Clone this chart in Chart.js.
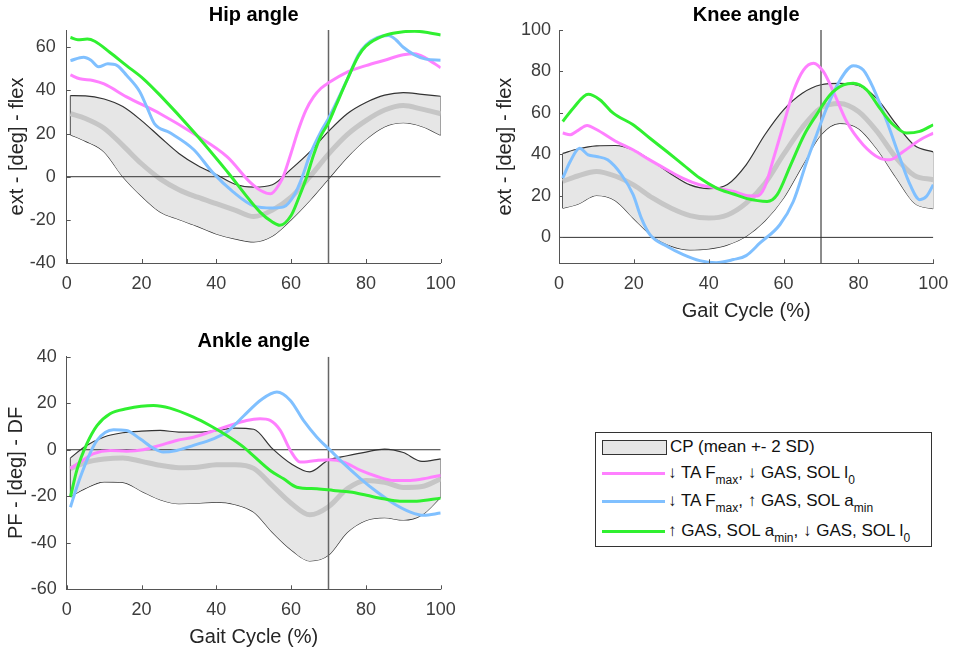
<!DOCTYPE html>
<html>
<head>
<meta charset="utf-8">
<script src="https://cdn.jsdelivr.net/npm/chart.js@4.4.0/dist/chart.umd.min.js"></script>
<style>
  body { margin: 0; background: #fff; font-family: 'Liberation Sans', Arial, sans-serif; }
  #wrap { position: relative; width: 962px; height: 656px; overflow: hidden; }
  canvas { position: absolute; }
  #hip { left: 0; top: 0; }
  #knee { left: 480px; top: 0; }
  #ankle { left: 0; top: 320px; }
  .legend { position: absolute; left: 595px; top: 432px; width: 337px; height: 115px;
            border: 1px solid #333; box-sizing: border-box; background: #fff; }
  .row { position: absolute; left: 6px; height: 24px; display: flex; align-items: center;
         font-size: 17px; color: #111; white-space: nowrap; }
  .sw { display: inline-block; width: 63px; margin-right: 3px; flex: none; }
  .patch { height: 13px; border: 1.5px solid #333; background: #e6e6e6; }
  .line { height: 3px; }
  .txt sub { font-size: 12px; position: relative; top: 6px; vertical-align: baseline; line-height: 0; }
</style>
</head>
<body>
<div id="wrap">
  <canvas id="hip" width="481" height="320"></canvas>
  <canvas id="knee" width="482" height="330"></canvas>
  <canvas id="ankle" width="481" height="336"></canvas>
  <div class="legend">
    <div class="row" style="top:2px"><span class="sw patch"></span><span class="txt">CP (mean +- 2 SD)</span></div>
    <div class="row" style="top:28px"><span class="sw line" style="background:#ff80ff"></span><span class="txt">↓ TA F<sub>max</sub>, ↓ GAS, SOL l<sub>0</sub></span></div>
    <div class="row" style="top:56px"><span class="sw line" style="background:#80c0ff"></span><span class="txt">↓ TA F<sub>max</sub>, ↑ GAS, SOL a<sub>min</sub></span></div>
    <div class="row" style="top:86px"><span class="sw line" style="background:#30f030"></span><span class="txt">↑ GAS, SOL a<sub>min</sub>, ↓ GAS, SOL l<sub>0</sub></span></div>
  </div>
</div>
<script>
// gait cycle axis
const gaitTicks = [0, 20, 40, 60, 80, 100];
const gridX = [1, 5, 10, 15, 20, 25, 30, 35, 40, 45, 50, 55, 60, 65, 70, 75, 80, 85, 90, 95, 100];
const toeOff = 70;

// hip
const hipTicksY = [-40, -20, 0, 20, 40, 60];
const hipRange = [-40, 68];
const hipUpper = [37.6, 37.5, 36, 32.5, 26, 18.3, 10.8, 5.2, 1, -3.5, -4.8, -3.7, 3.5, 11.5, 21, 29.2, 34.4, 37.8, 39, 38.2, 37.3];
const hipLower = [19.5, 16.5, 11.5, 0, -9, -16.4, -19.8, -23, -26.5, -28.8, -30.2, -27.5, -20, -11, -1, 9, 17.3, 23.2, 25, 23.3, 19.2];
const hipMean = [29.2, 27, 22.5, 14.5, 6, -1, -6, -9.5, -12.5, -15.5, -18.5, -15.5, -9.5, 0, 10.5, 19.5, 26, 30.9, 33, 31.3, 29.2];
const hipPink = [[1, 47.2], [3.5, 45.4], [7, 44.6], [10, 43], [16, 37], [25, 29.2], [34, 19.9], [43, 9.1], [49, -2.5], [52, -6.5], [54.5, -7.9], [57, -3], [58, 0.5], [60, 11], [62, 22], [64, 31], [66, 37], [68, 41], [70, 43.5], [75, 48.5], [80, 51.5], [85, 54], [90, 56.5], [93, 57], [96, 55], [100, 50.5]];
const hipBlue = [[1, 53.8], [4.5, 55.4], [6.5, 54], [8.5, 51], [11, 52.3], [13.5, 51.5], [16, 47], [19.5, 39.5], [21.5, 32], [23.5, 24.5], [27.5, 20.5], [34, 12.5], [39, 2], [44.5, -7], [50, -13.5], [55, -14.5], [58, -14], [61, -8], [63, 0], [65, 10], [68, 21], [70, 27], [75, 45], [78, 56.5], [80, 61], [83, 64.5], [86, 65.4], [88, 63.5], [90, 60], [93, 56.5], [96, 54.5], [100, 54]];
const hipGreen = [[1, 64.5], [3, 63.5], [5.5, 63.8], [7.5, 62.8], [11.5, 57.7], [16, 51.5], [20.5, 45.4], [25, 37.7], [34, 20.7], [43, 2.2], [51.7, -16.4], [55, -21], [57, -22.5], [60, -18], [62, -10], [64, -1], [66, 10], [68, 19], [70, 25], [72, 33], [75, 45], [78, 56], [80, 60.5], [85, 65.5], [90, 67.2], [93, 67.4], [96, 67], [100, 65.7]];

// knee
const kneeTicksY = [0, 20, 40, 60, 80, 100];
const kneeRange = [-12.5, 100];
const kneeUpper = [40.5, 42.6, 44.1, 44.3, 42, 36.6, 30.5, 25.3, 23.5, 25.5, 35, 49.5, 61.5, 69.5, 73.6, 74.3, 73.3, 66.8, 54.8, 44.3, 41.2];
const kneeLower = [14.1, 16, 20.2, 17.8, 9, 0.5, -4.2, -6, -5.5, -3.6, 0.6, 8, 19, 34.5, 49.5, 55, 52.5, 42.5, 29, 16.5, 13.8];
const kneeMean = [27, 29.6, 31.8, 29.6, 25.2, 19, 14, 10.5, 9.3, 10.8, 16.5, 26, 40, 53, 62.5, 64.6, 60.7, 51, 38.5, 29.8, 27.8];
const kneePink = [[1, 50.3], [3, 49.5], [5, 51.5], [7.5, 54], [10, 52], [15, 46.5], [20, 42], [24, 37.6], [29, 32.5], [33, 28.6], [37.5, 25.4], [42, 23.8], [47, 22], [50, 20.2], [53, 20], [55, 24.5], [57.3, 38], [60, 54.5], [62.6, 70.3], [65.3, 80.7], [68, 84], [70.6, 80], [73.3, 70.3], [76.8, 56], [81.3, 44.6], [85.7, 38.2], [88.4, 37.4], [92, 41.4], [96.4, 47], [100, 50.3]];
const kneeBlue = [[1, 28.6], [3, 36.6], [5.5, 43], [7.8, 39.8], [10, 39], [13, 37.4], [16.7, 30.2], [19.8, 20.6], [22, 9.3], [24.3, 1.3], [28.8, -4.3], [33.2, -8.3], [37.6, -11.2], [42, -12.2], [46.6, -10.7], [50, -8.8], [53.7, -2.7], [59, 6.1], [62.6, 17.3], [66.2, 36.6], [68.8, 49.4], [71.5, 62.3], [75.1, 75.9], [78.6, 82.8], [81.3, 80.7], [84, 71.9], [87.6, 55.9], [91.1, 38.2], [93.8, 25.4], [96.4, 18.2], [98.2, 19.8], [100, 25.4]];
const kneeGreen = [[1, 55.9], [3.8, 62.3], [7.8, 69], [10.9, 66.4], [14.5, 59.9], [19.8, 54.3], [24.3, 47.8], [28.8, 41.4], [33.2, 35], [37.6, 28.6], [42.1, 23.8], [46.6, 20.9], [50, 18.8], [55.6, 17.3], [58.3, 20.6], [61.9, 35], [65.5, 49.4], [68.8, 59.1], [72.4, 68.7], [76, 73.5], [78.6, 74.3], [82.2, 71.1], [85.7, 62.3], [89.3, 54.3], [92.9, 50.3], [96.4, 51.1], [100, 54.3]];

// ankle
const ankleTicksY = [-60, -40, -20, 0, 20, 40];
const ankleRange = [-60, 40];
const ankleUpper = [-3.5, 1.5, 5.5, 7.3, 8, 8.3, 7.6, 7.6, 8.2, 9.3, 8.8, 0.5, -6, -9.5, -4.4, -2.6, -1, 0.3, -1.2, -5, -3.9];
const ankleLower = [-20.2, -16.6, -13.8, -14, -17.8, -21.5, -23.2, -23, -22.5, -23.5, -26.8, -35.5, -43, -47.8, -45.3, -35.5, -30.4, -29.2, -30.2, -28, -20.4];
const ankleMean = [-8.2, -5.5, -4, -3.5, -5, -6.7, -7.7, -7.5, -6.5, -6.4, -8, -15.5, -23, -28, -24.5, -16.8, -13.2, -14, -16.2, -15.8, -12.5];
const anklePink = [[1, -8.2], [3.6, -5.3], [7.2, -1.7], [11.6, -0.3], [16, -0.6], [20.5, 0], [24.9, 1.9], [29.4, 4], [33.9, 5.4], [38.3, 7.6], [42.8, 10], [48.1, 12.6], [51.7, 13.3], [54.4, 12.6], [57.1, 8.3], [59.8, -0.3], [62.4, -5.3], [66.9, -4.6], [70.5, -4.3], [74.1, -5.3], [78.6, -8.9], [83, -11.5], [87.5, -13.2], [91.9, -13.2], [96.4, -12.2], [100, -11]];
const ankleBlue = [[1, -24.7], [2.7, -16.1], [5.4, -4.6], [8.1, 4], [12.5, 8.6], [16, 8.3], [19.6, 4.7], [23.2, 0.6], [25.8, -1], [29.4, -0.3], [33.9, 1.9], [39.2, 4.7], [42.8, 7.6], [47.3, 14.5], [52, 21.5], [56.2, 24.8], [59.8, 21.2], [63.3, 12.6], [66.9, 5.4], [70.5, -0.3], [74.1, -6], [78.6, -12.5], [83, -18.2], [87.5, -23.2], [91.9, -26.8], [95.4, -28.2], [100, -27.2]];
const ankleGreen = [[1, -20.4], [2.7, -8.9], [5.4, 2.6], [8.1, 10.4], [11.6, 15.5], [16, 17.6], [23.2, 19], [27.6, 17.9], [33.9, 14], [38.3, 10.4], [42.8, 6.1], [47.3, 1.1], [49.5, -2], [54.4, -8.9], [58, -12.5], [61.5, -16.1], [66.9, -16.8], [71.3, -17.5], [75.8, -18.2], [80.2, -19.6], [84.7, -21.1], [89.1, -22.1], [93.6, -22.1], [100, -20.8]];

const axisColor = '#555';
const tickColor = '#3c3c3c';
const bandFill = '#e6e6e6';
const bandEdge = '#333';
const meanColor = '#c6c6c6';
const pinkColor = '#ff80ff';
const blueColor = '#80c0ff';
const greenColor = '#30f030';

Chart.defaults.font.family = "'Liberation Sans', Arial, sans-serif";
Chart.defaults.animation = false;

function pts(pairs) {
  return pairs.map(p => ({ x: p[0], y: p[1] }));
}
function onGrid(vals) {
  return vals.map((v, i) => ({ x: gridX[i], y: v }));
}

// Matlab style tick marks pointing into the axes
const inwardTicks = {
  id: 'inwardTicks',
  afterDatasetsDraw(chart) {
    const { ctx, chartArea, scales } = chart;
    ctx.save();
    ctx.strokeStyle = axisColor;
    ctx.lineWidth = 1;
    ctx.beginPath();
    scales.x.ticks.forEach(t => {
      const px = Math.round(scales.x.getPixelForValue(t.value)) + 0.5;
      ctx.moveTo(px, chartArea.bottom);
      ctx.lineTo(px, chartArea.bottom - 4);
    });
    scales.y.ticks.forEach(t => {
      const py = Math.round(scales.y.getPixelForValue(t.value)) + 0.5;
      ctx.moveTo(chartArea.left, py);
      ctx.lineTo(chartArea.left + 4, py);
    });
    ctx.stroke();
    ctx.restore();
  }
};

function makeChart(id, c) {
  const curve = { pointRadius: 0, cubicInterpolationMode: 'monotone', fill: false };
  const straight = { pointRadius: 0, tension: 0, fill: false };
  const last = gridX.length - 1;
  const datasets = [
    { ...curve, data: onGrid(c.upper), borderColor: bandEdge, borderWidth: 1.2, backgroundColor: bandFill, fill: '+1', order: 10 },
    { ...curve, data: onGrid(c.lower), borderColor: bandEdge, borderWidth: 1.2, order: 10 },
    { ...straight, data: [{ x: gridX[0], y: c.upper[0] }, { x: gridX[0], y: c.lower[0] }], borderColor: bandEdge, borderWidth: 1.2, order: 10 },
    { ...straight, data: [{ x: gridX[last], y: c.upper[last] }, { x: gridX[last], y: c.lower[last] }], borderColor: bandEdge, borderWidth: 1.2, order: 10 },
    { ...curve, data: onGrid(c.mean), borderColor: meanColor, borderWidth: 5, order: 9 },
    { ...straight, data: [{ x: 0, y: 0 }, { x: 100, y: 0 }], borderColor: '#333', borderWidth: 1, order: 8 },
    { ...straight, data: [{ x: toeOff, y: c.range[0] }, { x: toeOff, y: c.range[1] }], borderColor: '#666', borderWidth: 1.5, order: 8 },
    { ...curve, data: pts(c.pink), borderColor: pinkColor, borderWidth: 3, order: 3 },
    { ...curve, data: pts(c.blue), borderColor: blueColor, borderWidth: 3, order: 2 },
    { ...curve, data: pts(c.green), borderColor: greenColor, borderWidth: 3, order: 1 }
  ];

  return new Chart(document.getElementById(id), {
    type: 'line',
    data: { datasets: datasets },
    plugins: [inwardTicks],
    options: {
      responsive: false,
      animation: false,
      layout: { padding: { left: 0, right: c.padRight, top: 0, bottom: 0 } },
      plugins: {
        legend: { display: false },
        tooltip: { enabled: false },
        title: {
          display: true, text: c.title, color: '#000', fullSize: false,
          font: { size: 20, weight: 'bold' },
          padding: { top: c.titleTop, bottom: 3 }
        }
      },
      scales: {
        x: {
          type: 'linear', min: 0, max: 100,
          afterBuildTicks: s => { s.ticks = gaitTicks.map(v => ({ value: v })); },
          afterFit: s => { s.height = c.xHeight; },
          grid: { display: false, drawTicks: false },
          border: { display: true, color: axisColor, width: 1 },
          ticks: { color: tickColor, font: { size: 18 }, padding: 10, maxRotation: 0, autoSkip: false },
          title: { display: c.xTitle, text: 'Gait Cycle (%)', color: '#262626', font: { size: 20 }, padding: { top: 0, bottom: 7 } }
        },
        y: {
          type: 'linear', min: c.range[0], max: c.range[1],
          afterBuildTicks: s => { s.ticks = c.ticksY.map(v => ({ value: v })); },
          afterFit: s => { s.width = c.yWidth; },
          grid: { display: false, drawTicks: false },
          border: { display: true, color: axisColor, width: 1 },
          ticks: { color: tickColor, font: { size: 18 }, padding: c.yPad },
          title: { display: true, text: c.yTitle, color: '#262626', font: { size: 20 }, padding: { top: c.yTitlePad, bottom: 0 } }
        }
      }
    }
  });
}

makeChart('hip', {
  title: 'Hip angle', yTitle: 'ext - [deg] - flex', xTitle: false,
  ticksY: hipTicksY, range: hipRange,
  upper: hipUpper, lower: hipLower, mean: hipMean,
  pink: hipPink, blue: hipBlue, green: hipGreen,
  padRight: 40.3, xHeight: 57, yWidth: 66.7, yPad: 11, yTitlePad: 5.5, titleTop: 3
});
makeChart('knee', {
  title: 'Knee angle', yTitle: 'ext - [deg] - flex', xTitle: true,
  ticksY: kneeTicksY, range: kneeRange,
  upper: kneeUpper, lower: kneeLower, mean: kneeMean,
  pink: kneePink, blue: kneeBlue, green: kneeGreen,
  padRight: 28.7, xHeight: 66.7, yWidth: 79, yPad: 8, yTitlePad: 13, titleTop: 3
});
makeChart('ankle', {
  title: 'Ankle angle', yTitle: 'PF - [deg] - DF', xTitle: true,
  ticksY: ankleTicksY, range: ankleRange,
  upper: ankleUpper, lower: ankleLower, mean: ankleMean,
  pink: anklePink, blue: ankleBlue, green: ankleGreen,
  padRight: 40.3, xHeight: 66.7, yWidth: 66.7, yPad: 10, yTitlePad: 4.7, titleTop: 9.7
});
</script>
</body>
</html>
